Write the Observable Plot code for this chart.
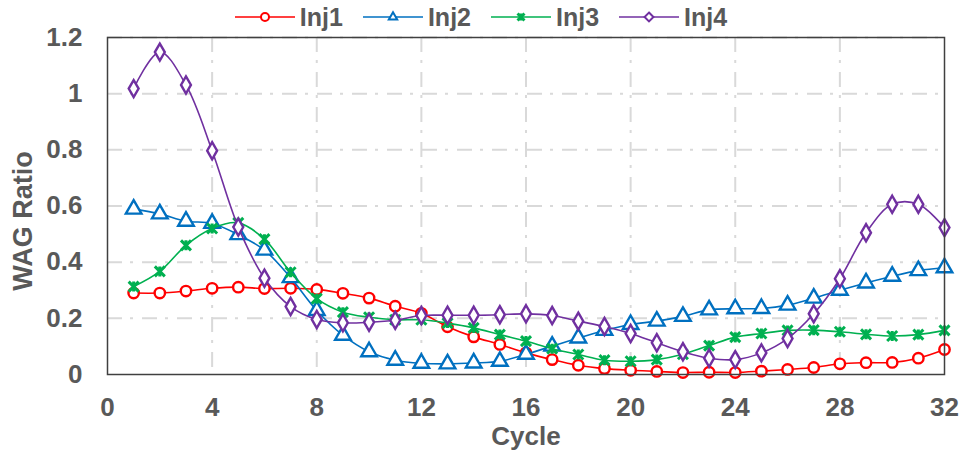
<!DOCTYPE html>
<html>
<head>
<meta charset="utf-8">
<script src="https://cdn.jsdelivr.net/npm/d3@7"></script>
<script src="https://cdn.jsdelivr.net/npm/@observablehq/plot@0.6"></script>
<style>
  html, body { margin: 0; padding: 0; background: white; }
  #wrap { position: relative; width: 962px; height: 451px; }
  #legend { position: absolute; left: 0; top: 3px; width: 962px; height: 28px;
    display: flex; justify-content: center; align-items: center;
    font-family: "Liberation Sans", Arial, sans-serif; font-weight: bold; font-size: 25px; color: #595959; }
  .item { display: flex; align-items: center; margin: 0 10px; }
  .item span { margin-left: 5px; }
  #ytitle { position: absolute; left: 23px; top: 221px; transform: translate(-50%, -50%) rotate(-90deg);
    white-space: nowrap; font-family: "Liberation Sans", Arial, sans-serif; font-weight: bold; font-size: 27px; color: #595959; }
  svg.plot { overflow: visible; }
</style>
</head>
<body>
<div id="wrap"><div id="legend"></div><div id="ytitle"></div></div>
<script>
const cycles = [1,2,3,4,5,6,7,8,9,10,11,12,13,14,15,16,17,18,19,20,21,22,23,24,25,26,27,28,29,30,31,32];
const seriesNames = ["Inj1", "Inj2", "Inj3", "Inj4"];
const seriesColors = ["#FF0000", "#0070C0", "#00B050", "#7030A0"];
const seriesSymbols = ["circle", "triangle", "star", "diamond"];
const inj1 = [0.29,0.29,0.297,0.307,0.311,0.306,0.307,0.303,0.289,0.272,0.243,0.218,0.17,0.134,0.107,0.077,0.053,0.033,0.021,0.015,0.011,0.007,0.008,0.007,0.012,0.018,0.025,0.038,0.042,0.043,0.058,0.089];
const inj2 = [0.589,0.572,0.546,0.538,0.498,0.443,0.345,0.228,0.14,0.081,0.051,0.04,0.038,0.041,0.047,0.072,0.101,0.13,0.157,0.178,0.19,0.207,0.23,0.234,0.235,0.247,0.272,0.3,0.326,0.35,0.37,0.38];
const inj3 = [0.313,0.367,0.46,0.52,0.54,0.482,0.364,0.27,0.222,0.204,0.195,0.195,0.183,0.166,0.142,0.119,0.092,0.071,0.051,0.047,0.053,0.072,0.103,0.133,0.146,0.157,0.158,0.152,0.143,0.137,0.142,0.157];
const inj4 = [1.018,1.148,1.031,0.797,0.525,0.343,0.242,0.196,0.184,0.186,0.193,0.21,0.211,0.211,0.213,0.216,0.21,0.19,0.171,0.146,0.113,0.081,0.058,0.053,0.077,0.128,0.216,0.341,0.505,0.606,0.606,0.523];
const seriesValues = [inj1, inj2, inj3, inj4];
const xTicks = [0,4,8,12,16,20,24,28,32];
const yTicks = [0,0.2,0.4,0.6,0.8,1,1.2];
const xGrid = [4,8,12,16,20,24,28];
const yGrid = [0.2,0.4,0.6,0.8,1,1.2];
const xTitle = "Cycle";
const yTitle = "WAG Ratio";

// Excel-like "star" marker: an X with a vertical bar
const starSymbol = {
  draw(context, size) {
    const r = Math.sqrt(size / Math.PI);
    context.moveTo(-r, -r); context.lineTo(r, r);
    context.moveTo(-r, r); context.lineTo(r, -r);
    context.moveTo(0, -r); context.lineTo(0, r);
  }
};
const plotSymbol = s => s === "star" ? starSymbol : s;

const data = seriesNames.flatMap((name, i) => cycles.map((c, j) => ({series: name, cycle: c, value: seriesValues[i][j]})));

const seriesMarks = seriesNames.flatMap((name, i) => {
  const d = data.filter(r => r.series === name);
  const isStar = seriesSymbols[i] === "star";
  return [
    Plot.line(d, {x: "cycle", y: "value", stroke: seriesColors[i], strokeWidth: 1.6, curve: "catmull-rom"}),
    Plot.dot(d, {x: "cycle", y: "value", symbol: plotSymbol(seriesSymbols[i]), stroke: seriesColors[i],
      fill: isStar ? seriesColors[i] : "white", strokeWidth: isStar ? 3 : 2.4,
      r: seriesSymbols[i] === "circle" ? 5.2 : (isStar ? 5 : (seriesSymbols[i] === "diamond" ? 5.2 : 5.8))})
  ];
});

const chart = Plot.plot({
  width: 962,
  height: 451,
  marginTop: 37,
  marginLeft: 107,
  marginRight: 18,
  marginBottom: 77,
  style: {fontFamily: "Liberation Sans, Arial, sans-serif", fontSize: "26px", fontWeight: "bold", color: "#595959", background: "white"},
  x: {domain: [0, 32]},
  y: {domain: [0, 1.2]},
  marks: [
    Plot.gridX(xGrid, {stroke: "#d9d9d9", strokeOpacity: 1, strokeWidth: 2, strokeDasharray: "15,8,3,9"}),
    Plot.gridY(yGrid, {stroke: "#d9d9d9", strokeOpacity: 1, strokeWidth: 2, strokeDasharray: "15,8,3,9"}),
    Plot.axisX({ticks: xTicks, tickSize: 0, tickPadding: 23, tickFormat: d => String(d),
      label: xTitle, labelAnchor: "center", labelOffset: 70, labelArrow: "none"}),
    Plot.axisY({ticks: yTicks, tickSize: 0, tickPadding: 25, tickFormat: d => String(d), label: null}),
    ...seriesMarks,
    Plot.frame({stroke: "#404040", strokeWidth: 1.5})
  ]
});
document.getElementById("wrap").appendChild(chart);
document.getElementById("ytitle").textContent = yTitle;

const symMap = {circle: d3.symbolCircle, triangle: d3.symbolTriangle2, star: starSymbol, diamond: d3.symbolDiamond2};
const legend = d3.select("#legend");
seriesNames.forEach((name, i) => {
  const it = legend.append("div").attr("class", "item");
  const s = it.append("svg").attr("width", 60).attr("height", 20);
  s.append("line").attr("x1", 0).attr("x2", 60).attr("y1", 10).attr("y2", 10)
    .attr("stroke", seriesColors[i]).attr("stroke-width", 1.6);
  const isStar = seriesSymbols[i] === "star";
  s.append("path").attr("transform", "translate(30,10)")
    .attr("d", d3.symbol(symMap[seriesSymbols[i]], Math.PI * (isStar ? 12 : 16))())
    .attr("stroke", seriesColors[i]).attr("stroke-width", isStar ? 3 : 2)
    .attr("fill", isStar ? seriesColors[i] : "white");
  it.append("span").text(name);
});
</script>
</body>
</html>
